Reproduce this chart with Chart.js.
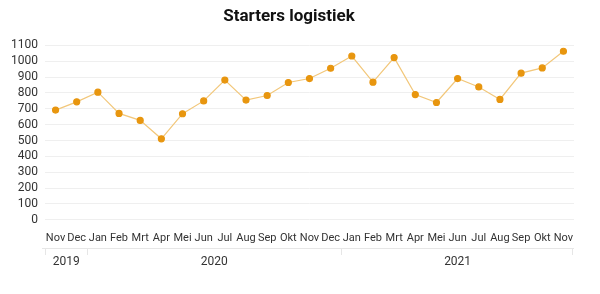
<!DOCTYPE html>
<html>
<head>
<meta charset="utf-8">
<script src="https://cdn.jsdelivr.net/npm/chart.js@4"></script>
<style>
  html, body { margin: 0; padding: 0; background: #fff; }
  #wrap { width: 600px; height: 294px; }
</style>
</head>
<body>
<div id="wrap"><canvas id="chart"></canvas></div>
<script>
var months = ['Nov', 'Dec', 'Jan', 'Feb', 'Mrt', 'Apr', 'Mei', 'Jun', 'Jul', 'Aug', 'Sep', 'Okt', 'Nov',
              'Dec', 'Jan', 'Feb', 'Mrt', 'Apr', 'Mei', 'Jun', 'Jul', 'Aug', 'Sep', 'Okt', 'Nov'];
var starters = [692, 744, 805, 671, 627, 511, 669, 750, 881, 755, 784, 866, 891,
                956, 1033, 868, 1023, 790, 740, 891, 838, 759, 925, 958, 1063];
// year groups: label, first index, last index
var years = ['2019', '2020', '2021'];
var yearStart = [0, 2, 14];
var yearEnd = [1, 13, 24];

var yearAxis = {
    id: 'yearAxis',
    afterDraw: function(chart) {
        var ctx = chart.ctx;
        var x = chart.scales.x;
        var half = (x.getPixelForValue(1) - x.getPixelForValue(0)) / 2;
        var lineY = 248;
        ctx.save();
        ctx.strokeStyle = '#e6e6e6';
        ctx.lineWidth = 1;
        ctx.beginPath();
        ctx.moveTo(x.left - 3, lineY + 0.5);
        ctx.lineTo(x.right, lineY + 0.5);
        for (var i = 0; i < years.length; i++) {
            var l = Math.round(x.getPixelForValue(yearStart[i]) - half) + 0.5;
            ctx.moveTo(l, lineY);
            ctx.lineTo(l, lineY + 7);
        }
        var r = Math.round(x.right) - 1.5;
        ctx.moveTo(r, lineY);
        ctx.lineTo(r, lineY + 7);
        ctx.stroke();

        ctx.fillStyle = '#333';
        ctx.font = '12px Roboto';
        ctx.textAlign = 'center';
        ctx.textBaseline = 'middle';
        for (var j = 0; j < years.length; j++) {
            var a = x.getPixelForValue(yearStart[j]) - half;
            var b = x.getPixelForValue(yearEnd[j]) + half;
            ctx.fillText(years[j], (a + b) / 2, 262);
        }
        ctx.restore();
    }
};

new Chart(document.getElementById('chart'), {
    type: 'line',
    data: {
        labels: months,
        datasets: [{
            label: 'Starters logistiek',
            data: starters,
            borderColor: '#f2c77a',
            borderWidth: 1.2,
            backgroundColor: '#e8960f',
            pointBackgroundColor: '#e8960f',
            pointBorderColor: '#e8960f',
            pointRadius: 3,
            tension: 0
        }]
    },
    options: {
        responsive: true,
        maintainAspectRatio: false,
        animation: false,
        layout: { padding: { left: 4, right: 26, top: 0, bottom: 45 } },
        plugins: {
            legend: { display: false },
            tooltip: { enabled: false },
            title: {
                display: true,
                text: 'Starters logistiek',
                color: '#111',
                font: { family: 'Roboto', size: 17, weight: 'bold' },
                padding: { top: 7, bottom: 18 }
            }
        },
        scales: {
            x: {
                offset: true,
                grid: { display: false },
                border: { display: false },
                ticks: {
                    color: '#333',
                    font: { family: 'Roboto', size: 11 },
                    padding: 4,
                    maxRotation: 0,
                    autoSkip: false
                }
            },
            y: {
                min: 0,
                max: 1100,
                grid: { color: '#efefef', drawTicks: false },
                border: { display: false },
                ticks: {
                    stepSize: 100,
                    autoSkip: false,
                    color: '#333',
                    font: { family: 'Roboto', size: 12 },
                    padding: 7,
                    callback: function(v) { return String(v); }
                }
            }
        }
    },
    plugins: [yearAxis]
});
</script>
</body>
</html>
